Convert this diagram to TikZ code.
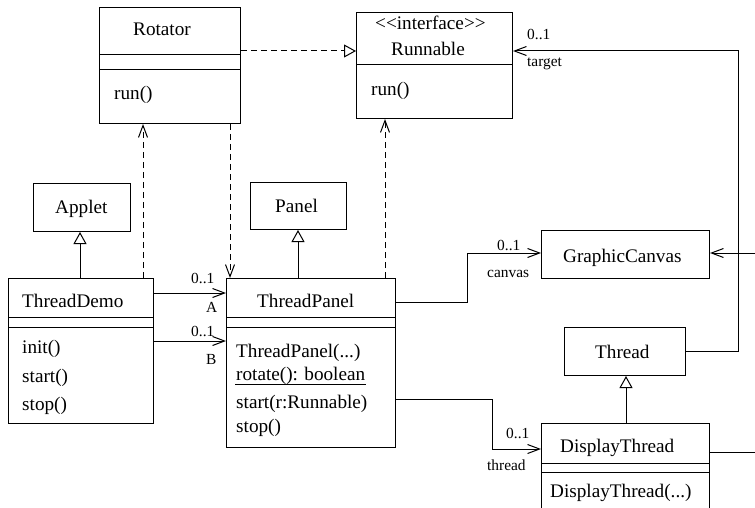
\documentclass[tikz,border=0pt]{standalone}
\usepackage{fontspec}
\setmainfont{Liberation Serif}
\usetikzlibrary{arrows.meta}
\newcommand\clsfont{\fontsize{19.2}{23}\selectfont}
\newcommand\lblfont{\fontsize{15.4}{18}\selectfont}
\begin{document}
\begin{tikzpicture}[x=1pt,y=-1pt,
  cls/.style={draw, line width=1pt, inner sep=0pt, anchor=north west},
  txt/.style={anchor=base west, inner sep=0pt, font=\clsfont},
  lbl/.style={anchor=base west, inner sep=0pt, font=\lblfont},
  sep/.style={line width=1pt},
  assoc/.style={line width=1pt, -{Straight Barb[length=12pt,width=9pt,line width=1pt]}},
  dep/.style={assoc, dash pattern=on 6pt off 4pt},
  gen/.style={line width=1pt, -{Triangle[open,length=12pt,width=13pt,fill=white,line width=1pt]}},
  realize/.style={gen, dash pattern=on 6pt off 4pt}]
\useasboundingbox (0,0) rectangle (755,508);
\fill[white] (0,0) rectangle (755,508);
% class boxes
\node[cls, minimum width=141pt, minimum height=116pt] (rot) at (99,7) {};
\node[cls, minimum width=156pt, minimum height=106pt] (run) at (356,12) {};
\node[cls, minimum width=97pt, minimum height=48pt] (app) at (33,183) {};
\node[cls, minimum width=96pt, minimum height=47pt] (pan) at (250,182) {};
\node[cls, minimum width=145pt, minimum height=145pt] (td) at (8,278) {};
\node[cls, minimum width=169pt, minimum height=169pt] (tp) at (226,278) {};
\node[cls, minimum width=168pt, minimum height=48pt] (gc) at (541,230) {};
\node[cls, minimum width=121pt, minimum height=48pt] (thr) at (564,327) {};
\node[cls, minimum width=168pt, minimum height=120pt] (dt) at (541,423) {};
% compartments
\draw[sep] (99,55) -- (240,55);
\draw[sep] (99,70) -- (240,70);
\draw[sep] (356,65) -- (512,65);
\draw[sep] (8,317) -- (153,317);
\draw[sep] (8,327) -- (153,327);
\draw[sep] (226,317) -- (395,317);
\draw[sep] (226,327) -- (395,327);
\draw[sep] (541,463) -- (709,463);
\draw[sep] (541,472) -- (709,472);
\draw[sep] (235,384) -- (366,384);
% texts
\node[txt] (trot) at (133,36) {Rotator};
\node[txt] (trotm) at (114,100) {run()};
\node[txt] (tint) at (375,30) {<{}<interface>{}>};
\node[txt] (trun) at (391,56) {Runnable};
\node[txt] (trunm) at (371,96) {run()};
\node[txt] (tapp) at (55,213) {Applet};
\node[txt] (tpan) at (275,212) {Panel};
\node[txt] (ttd) at (22,307) {ThreadDemo};
\node[txt] (ttd1) at (22,353) {init()};
\node[txt] (ttd2) at (22,382) {start()};
\node[txt] (ttd3) at (22,410) {stop()};
\node[txt] (ttp) at (257,307) {ThreadPanel};
\node[txt] (ttp1) at (236,357) {ThreadPanel(...)};
\node[txt] (ttp2) at (236,380) {rotate(): boolean};
\node[txt] (ttp3) at (236,408) {start(r:Runnable)};
\node[txt] (ttp4) at (236,432) {stop()};
\node[txt] (tgc) at (563,262) {GraphicCanvas};
\node[txt] (tthr) at (595,358) {Thread};
\node[txt] (tdt) at (560,452) {DisplayThread};
\node[txt] (tdt1) at (550,497) {DisplayThread(...)};
% helper coordinates
\coordinate (ya) at (0,293);
\coordinate (yb) at (0,341);
\coordinate (d1) at (143,0);
\coordinate (d2) at (230,0);
\coordinate (d3) at (385,0);
\coordinate (d4) at (0,51);
\coordinate (g1) at (80,0);
\coordinate (g2) at (298,0);
\coordinate (g3) at (626,0);
\coordinate (tc) at (738,51);
\coordinate (c1) at (467,302);
\coordinate (c2) at (467,253);
\coordinate (t1) at (492,399);
\coordinate (t2) at (492,449);
\coordinate (r1) at (775,452);
\coordinate (r2) at (775,253);
% connectors
\draw[realize] (rot.east |- d4) -- (run.west |- d4);
\draw[dep] (td.north -| d1) -- (rot.south -| d1);
\draw[dep] (rot.south -| d2) -- (tp.north -| d2);
\draw[dep] (tp.north -| d3) -- (run.south -| d3);
\draw[gen] (td.north -| g1) -- (app.south -| g1);
\draw[gen] (tp.north -| g2) -- (pan.south -| g2);
\draw[gen] (dt.north -| g3) -- (thr.south -| g3);
\draw[assoc] (td.east |- ya) -- (tp.west |- ya);
\draw[assoc] (td.east |- yb) -- (tp.west |- yb);
\draw[assoc] (thr.east) -| (tc) -- (run.east |- tc);
\draw[assoc] (tp.east |- c1) -- (c1) -- (c2) -- (gc.west |- c2);
\draw[assoc] (tp.east |- t1) -- (t1) -- (t2) -- (dt.west |- t2);
\draw[assoc] (dt.east |- r1) -- (r1) -- (r2) -- (gc.east |- r2);
% role labels
\node[lbl] (la1) at (191,283) {0..1};
\node[lbl] (la2) at (206,312) {A};
\node[lbl] (lb1) at (191,336) {0..1};
\node[lbl] (lb2) at (206,364) {B};
\node[lbl] (lt1) at (527,40) {0..1};
\node[lbl] (lt2) at (527,67) {target};
\node[lbl] (lc1) at (497,250) {0..1};
\node[lbl] (lc2) at (487,277) {canvas};
\node[lbl] (lh1) at (506,438) {0..1};
\node[lbl] (lh2) at (487,470) {thread};
\end{tikzpicture}
\end{document}
